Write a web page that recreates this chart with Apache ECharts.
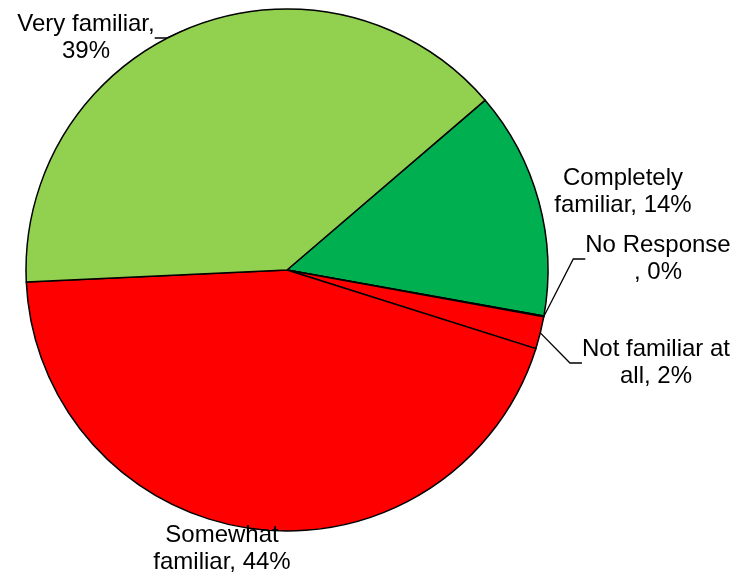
<!DOCTYPE html>
<html>
<head>
<meta charset="utf-8">
<script src="https://cdn.jsdelivr.net/npm/echarts@6/dist/echarts.min.js"></script>
<style>
html,body{margin:0;padding:0;background:#fff;}
#chart{width:734px;height:574px;}
</style>
</head>
<body>
<div id="chart"></div>
<script>
// Data
const categories = ['Completely familiar', 'No Response', 'Not familiar at all', 'Somewhat familiar', 'Very familiar'];
const values = [14.1, 0.05, 2.0, 44.4, 39.45];
const labelTexts = ['Completely\nfamiliar', 'No Response\n', 'Not familiar at\nall', 'Somewhat\nfamiliar', 'Very familiar,\n'];
const colors = ['#00B050', '#FF0000', '#FF0000', '#FF0000', '#92D050'];
const showLines = [false, true, true, false, true];

// Layout of label blocks (centres)
const labelCentres = [[623, 192], [658, 259], [656, 363], [222, 549], [86, 38]];

const chart = echarts.init(document.getElementById('chart'), null, {renderer: 'canvas'});

const data = categories.map((c, i) => ({
  name: c,
  value: values[i],
  itemStyle: {color: colors[i]},
  labelLine: {show: showLines[i]}
}));

chart.setOption({
  animation: false,
  backgroundColor: '#ffffff',
  series: [{
    type: 'pie',
    center: [287, 270],
    radius: 261,
    startAngle: 40.6,
    clockwise: true,
    avoidLabelOverlap: false,
    data: data,
    itemStyle: {borderColor: '#000', borderWidth: 1.5},
    label: {
      show: true,
      position: 'outside',
      color: '#000',
      fontFamily: 'Liberation Sans, Arial, sans-serif',
      fontSize: 24,
      lineHeight: 27,
      align: 'center',
      formatter: function (p) {
        const t = labelTexts[p.dataIndex];
        const pct = Math.round(p.percent) + '%';
        if (t.endsWith('\n')) {
          return p.dataIndex === 1 ? t + ', ' + pct : t + pct;
        }
        return t + ', ' + pct;
      }
    },
    labelLine: {
      show: true,
      lineStyle: {color: '#000', width: 1.3},
      length: 15,
      length2: 12
    },
    labelLayout: function (params) {
      const c = labelCentres[params.dataIndex];
      return {x: c[0], y: c[1], align: 'center', verticalAlign: 'middle'};
    }
  }]
});
</script>
</body>
</html>
